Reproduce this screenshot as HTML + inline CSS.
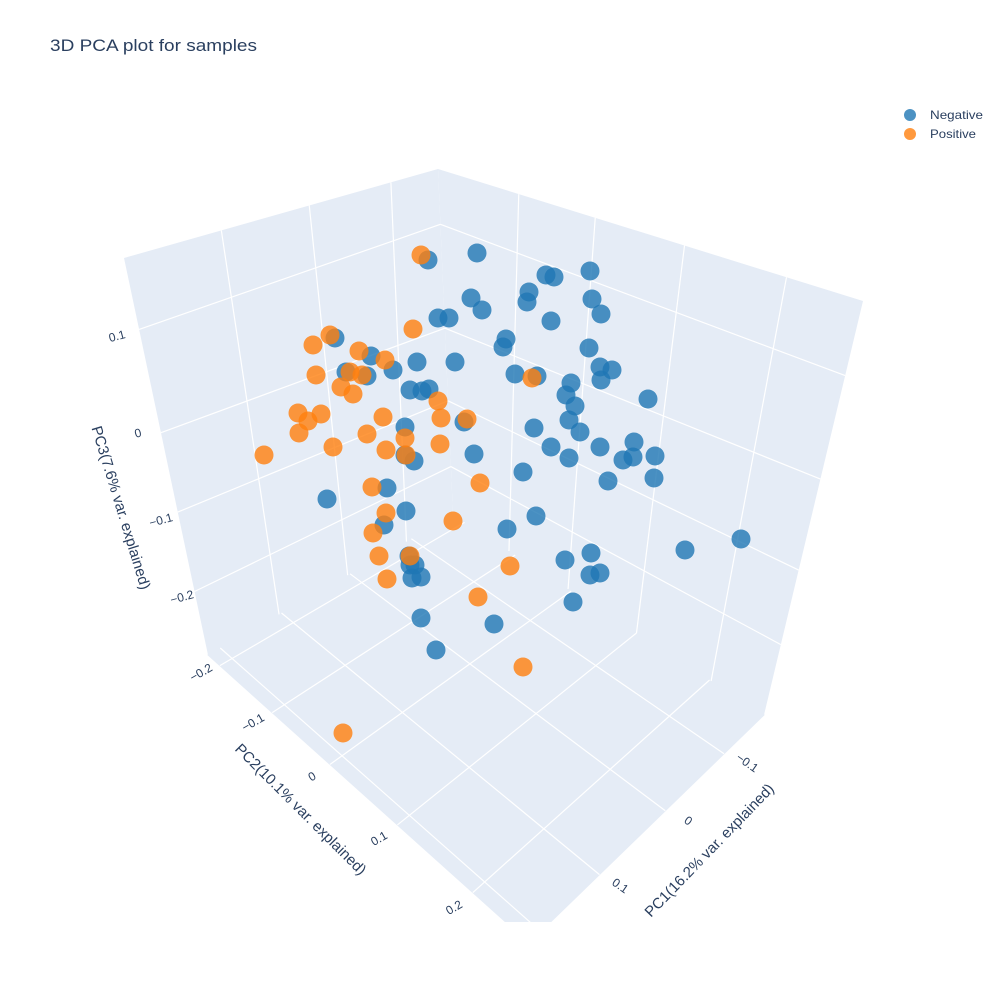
<!DOCTYPE html>
<html><head><meta charset="utf-8"><style>
body{margin:0;background:#fff;}
svg{display:block;font-family:"Liberation Sans",Arial,sans-serif;}
</style></head><body>
<svg id="chart" width="1000" height="1000" viewBox="0 0 1000 1000">
<text x="50" y="51" font-size="17" fill="#2a3f5f" textLength="207" lengthAdjust="spacingAndGlyphs">3D PCA plot for samples</text>
<g id="scene"></g>
<g id="ticks" font-size="12" fill="#2a3f5f">
<text transform="translate(118,340) rotate(-15)" text-anchor="middle">0.1</text>
<text transform="translate(139,437) rotate(-15)" text-anchor="middle">0</text>
<text transform="translate(162,524) rotate(-15)" text-anchor="middle">−0.1</text>
<text transform="translate(183,601) rotate(-15)" text-anchor="middle">−0.2</text>
<text transform="translate(203,676) rotate(-30)" text-anchor="middle">−0.2</text>
<text transform="translate(255,726) rotate(-30)" text-anchor="middle">−0.1</text>
<text transform="translate(314,780) rotate(-30)" text-anchor="middle">0</text>
<text transform="translate(381,842) rotate(-30)" text-anchor="middle">0.1</text>
<text transform="translate(456,911) rotate(-30)" text-anchor="middle">0.2</text>
<text transform="translate(745,766) rotate(35)" text-anchor="middle">−0.1</text>
<text transform="translate(686,824) rotate(35)" text-anchor="middle">0</text>
<text transform="translate(618,889) rotate(35)" text-anchor="middle">0.1</text>
</g>
<text transform="translate(120,508) rotate(73)" text-anchor="middle" font-size="15" fill="#2a3f5f" dominant-baseline="middle">PC3(7.6% var. explained)</text>
<text transform="translate(300,810) rotate(45)" text-anchor="middle" font-size="15" fill="#2a3f5f" dominant-baseline="middle">PC2(10.1% var. explained)</text>
<text transform="translate(710,851) rotate(-46)" text-anchor="middle" font-size="15" fill="#2a3f5f" dominant-baseline="middle">PC1(16.2% var. explained)</text>
<g>
<g><circle cx="910" cy="115" r="6" fill="#1f77b4" opacity="0.8"/><text x="930" y="119" font-size="12" fill="#2a3f5f" textLength="53" lengthAdjust="spacingAndGlyphs">Negative</text></g>
<g><circle cx="910" cy="134" r="6" fill="#ff7f0e" opacity="0.8"/><text x="930" y="138" font-size="12" fill="#2a3f5f" textLength="46" lengthAdjust="spacingAndGlyphs">Positive</text></g>
</g>
<g id="points"></g>
</svg>
<script>
// projected (screen-view) coordinates of each sample, in view units (0..1000)
const negX=[428,477,546,554,590,471,529,527,592,482,601,438,449,551,335,506,503,589,371,417,455,346,393,367,515,537,600,612,571,601,410,422,429,566,648,575,464,569,534,405,580,634,600,405,414,474,551,569,623,633,655,523,608,654,387,327,406,536,384,507,565,591,685,741,409,410,415,412,421,590,600,573,421,494,436];
const negY=[260,253,275,277,271,298,292,302,299,310,314,318,318,321,338,339,347,348,356,362,362,372,370,376,374,376,367,370,383,380,390,391,389,395,399,406,422,420,428,427,432,442,447,455,461,454,447,458,460,457,456,472,481,478,488,499,511,516,525,529,560,553,550,539,556,565,565,578,577,575,573,602,618,624,650];
const posX=[421,413,330,313,359,385,316,350,362,341,353,383,438,467,441,298,321,308,299,367,405,440,333,386,264,406,532,480,372,386,453,373,379,410,510,387,478,523,343];
const posY=[255,329,335,345,351,360,375,372,375,387,394,417,401,419,418,413,414,421,433,434,438,444,447,450,455,455,378,483,487,513,521,533,556,556,566,579,597,667,733];
const seriesNames=["Negative","Positive"];

const VIEW=1000;
function sx(u){return u*1000/VIEW;}
function sy(v){return v*1000/VIEW;}
const NS="http://www.w3.org/2000/svg";
const scene=document.getElementById('scene');
function mk(tag,attrs,parent){const e=document.createElementNS(NS,tag);for(const k in attrs)e.setAttribute(k,attrs[k]);parent.appendChild(e);return e;}
function lerp(a,b,t){return [a[0]+(b[0]-a[0])*t,a[1]+(b[1]-a[1])*t];}
const bg='#e5ecf6';
const TL=[124,258],TI=[438,169],TR=[863,301],BI=[453,515],BL=[208,655],BR=[764,715],FR=[529,943];
const clip=mk('clipPath',{id:'cp'},scene);
mk('rect',{x:0,y:0,width:1000,height:922},clip);
const g=mk('g',{'clip-path':'url(#cp)'},scene);
const lw=mk('polygon',{points:[TL,TI,BI,BL].join(' '),fill:bg},g);


const rw=mk('polygon',{points:[TI,TR,BR,BI].join(' '),fill:bg},g);


const fl=mk('polygon',{points:[BL,BI,BR,FR].join(' '),fill:bg,stroke:bg,'stroke-width':1},g);


function gl(a,b){const l=mk('line',{x1:a[0],y1:a[1],x2:b[0],y2:b[1],stroke:'#fff','stroke-width':1.2},g);

}
[[0.15,0.19],[0.41,0.43],[0.69,0.71]].forEach(f=>gl(lerp(TI,TL,f[0]),lerp(BI,BL,f[1])));
[[0.18,0.16],[0.44,0.46],[0.64,0.67],[0.84,0.86]].forEach(f=>gl(lerp(TL,BL,f[0]),lerp(TI,BI,f[1])));
[[0.19,0.18],[0.37,0.37],[0.58,0.59],[0.82,0.83]].forEach(f=>gl(lerp(TI,TR,f[0]),lerp(BI,BR,f[1])));
[[0.16,0.18],[0.46,0.43],[0.67,0.65],[0.86,0.83]].forEach(f=>gl(lerp(TI,BI,f[0]),lerp(TR,BR,f[1])));
[0.037,0.2,0.38,0.59,0.825].forEach(f=>gl(lerp(BI,BR,f),lerp(BL,FR,f)));
[0.17,0.42,0.70,0.95].forEach(f=>gl(lerp(BI,BL,f),lerp(BR,FR,f)));

const pts=document.getElementById('points');
function drawSeries(xs,ys,color,name){
  const grp=mk('g',{},pts);
  
  
  for(let i=0;i<xs.length;i++){
    const c=mk('circle',{cx:sx(xs[i]),cy:sy(ys[i]),r:9.5,fill:color,'fill-opacity':0.8},grp);
    
    
  }
}
drawSeries(negX,negY,'#1f77b4',seriesNames[0]);
drawSeries(posX,posY,'#ff7f0e',seriesNames[1]);
</script>
</body></html>
